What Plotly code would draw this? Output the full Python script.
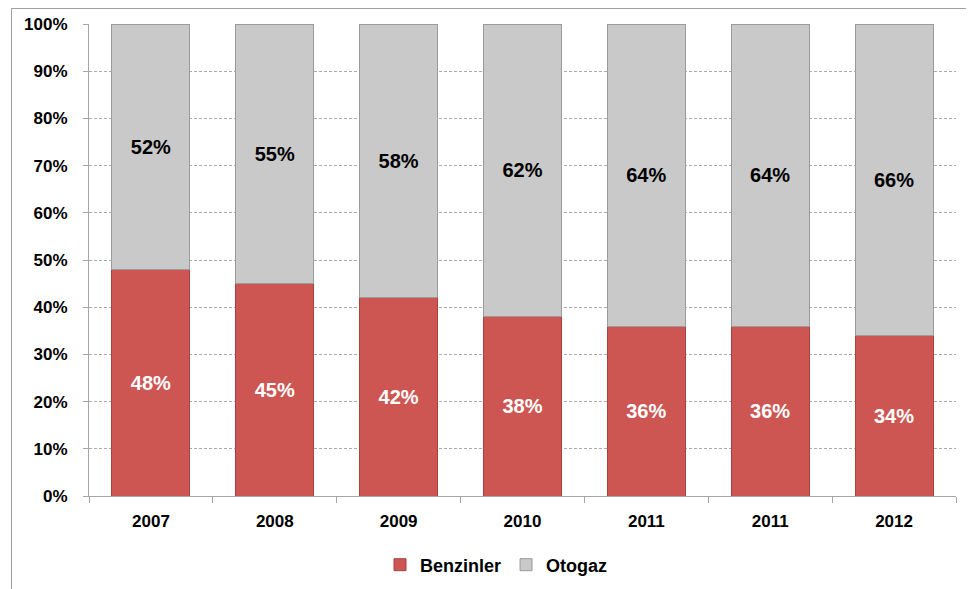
import plotly.graph_objects as go

years = ["2007", "2008", "2009", "2010", "2011", "2011", "2012"]
benzinler = [48, 45, 42, 38, 36, 36, 34]
otogaz = [52, 55, 58, 62, 64, 64, 66]
y_ticks = [0, 10, 20, 30, 40, 50, 60, 70, 80, 90, 100]

# page has an 8px body margin; figure sized to fit the window
OFF = 8
W, H = 974 - OFF, 589 - OFF
L, T = 89 - OFF, 24 - OFF
R = W - (956 - OFF)
B = H - (496 - OFF)
pw, ph = W - L - R, H - T - B

xs = list(range(len(years)))
font = "Liberation Sans, Arial, sans-serif"

fig = go.Figure()
fig.add_trace(go.Bar(
    x=xs, y=benzinler, name="Benzinler",
    marker=dict(color="#CD5653", line=dict(color="#A84340", width=1)),
    text=[f"{v}%" for v in benzinler], textposition="inside",
    insidetextanchor="middle",
    textfont=dict(color="white", size=20, family=font, weight="bold"),
))
fig.add_trace(go.Bar(
    x=xs, y=otogaz, name="Otogaz",
    marker=dict(color="#C9C9C9", line=dict(color="#9A9A9A", width=1)),
    text=[f"{v}%" for v in otogaz], textposition="inside",
    insidetextanchor="middle",
    textfont=dict(color="black", size=20, family=font, weight="bold"),
))

def px_x(p):
    return (p - OFF - L) / pw

def px_y(p):
    return (H - B - (p - OFF)) / ph

fig.update_layout(
    width=W, height=H,
    margin=dict(l=L, r=R, t=T, b=B, autoexpand=False),
    barmode="stack", bargap=0.37,
    plot_bgcolor="white", paper_bgcolor="white",
    font=dict(family=font, size=17, color="black"),
    showlegend=True,
    legend=dict(orientation="h", x=0.5 - 26 / pw, xanchor="center",
                yref="container", y=1 - (565 - OFF) / H, yanchor="middle",
                font=dict(size=18, family=font, weight="bold"), traceorder="normal",
                itemwidth=30, tracegroupgap=0),
    uniformtext=dict(minsize=10),
    xaxis=dict(
        range=[-0.5, len(years) - 0.5],
        tickmode="array", tickvals=xs, ticktext=years,
        ticks="", showgrid=False, zeroline=False, automargin=False,
        showline=True, linecolor="#A6A6A6", linewidth=1,
        tickfont=dict(size=17, family=font, weight="bold"),
        ticklabelstandoff=10,
        minor=dict(ticks="outside", tick0=-0.5, dtick=1, ticklen=6, tickcolor="#A6A6A6", showgrid=False),
        fixedrange=True,
    ),
    yaxis=dict(
        range=[0, 100], tickmode="array", tickvals=y_ticks,
        ticktext=[f"{v}%" for v in y_ticks],
        ticks="outside", ticklen=5, tickcolor="#A6A6A6", automargin=False,
        showgrid=True, gridcolor="#ABABAB", griddash="3px,2px", gridwidth=1,
        zeroline=False, showline=True, linecolor="#A6A6A6", linewidth=1,
        tickfont=dict(size=17, family=font, weight="bold"),
        ticklabelstandoff=12,
        fixedrange=True,
    ),
    shapes=[
        dict(type="line", xref="paper", yref="paper",
             x0=px_x(11), x1=px_x(990), y0=px_y(8.5), y1=px_y(8.5),
             line=dict(color="#A0A0A0", width=1)),
        dict(type="line", xref="paper", yref="paper",
             x0=px_x(11.5), x1=px_x(11.5), y0=px_y(8.5), y1=px_y(600),
             line=dict(color="#A0A0A0", width=1)),
    ],
)

fig.write_html("out.html")
